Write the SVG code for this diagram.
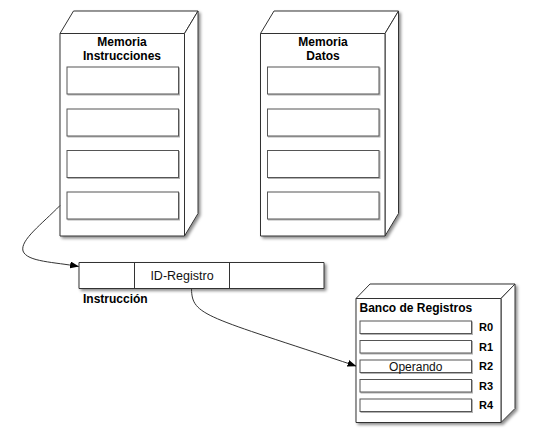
<svg xmlns="http://www.w3.org/2000/svg" width="543" height="437" viewBox="0 0 543 437">
  <defs>
    <filter id="sh" x="-10%" y="-10%" width="130%" height="130%">
      <feDropShadow dx="2" dy="2" stdDeviation="1.5" flood-color="#000" flood-opacity="0.45"/>
    </filter>
    <filter id="shs" x="-10%" y="-10%" width="130%" height="130%">
      <feDropShadow dx="1" dy="1" stdDeviation="0.7" flood-color="#000" flood-opacity="0.3"/>
    </filter>
    <marker id="arr" markerWidth="9" markerHeight="7" refX="8.5" refY="3.5" orient="auto" markerUnits="userSpaceOnUse">
      <path d="M0,0 L9,3.5 L0,7 Z" fill="#000"/>
    </marker>
    <style>
      .box { fill: #fff; stroke: #333; stroke-width: 1; stroke-linejoin: round; }
      .cell { fill: #fff; stroke: #555; stroke-width: 1; filter: url(#shs); }
      .title { font-family: "Liberation Sans", Arial, sans-serif; font-size: 12px; font-weight: bold; fill: #000; }
      .reg { font-family: "Liberation Sans", Arial, sans-serif; font-size: 11px; font-weight: bold; fill: #000; }
      .txt { font-family: "Liberation Sans", Arial, sans-serif; font-size: 12px; fill: #111; }
      .conn { fill: none; stroke: #333; stroke-width: 1; }
    </style>
  </defs>
  <rect width="543" height="437" fill="#fff"/>

  <g id="memoria-instrucciones">
    <g filter="url(#sh)">
      <polygon class="box" points="60,33.5 73.5,11 198,11 184.5,33.5"/>
      <polygon class="box" points="184.5,33.5 198,11 198,213.5 184.5,236"/>
      <rect class="box" x="60" y="33.5" width="124.5" height="202.5"/>
    </g>
    <text class="title" x="122" y="46" text-anchor="middle">Memoria</text>
    <text class="title" x="122" y="59.5" text-anchor="middle">Instrucciones</text>
    <rect class="cell" x="67" y="67" width="111.5" height="27"/>
    <rect class="cell" x="67" y="109" width="111.5" height="27"/>
    <rect class="cell" x="67" y="150.5" width="111.5" height="27"/>
    <rect class="cell" x="67" y="192" width="111.5" height="27"/>
  </g>

  <g id="memoria-datos">
    <g filter="url(#sh)">
      <polygon class="box" points="260.5,33.5 274,11 398.5,11 385,33.5"/>
      <polygon class="box" points="385,33.5 398.5,11 398.5,213.5 385,236"/>
      <rect class="box" x="260.5" y="33.5" width="124.5" height="202.5"/>
    </g>
    <text class="title" x="323" y="46" text-anchor="middle">Memoria</text>
    <text class="title" x="323" y="59.5" text-anchor="middle">Datos</text>
    <rect class="cell" x="267.5" y="67" width="111.5" height="27"/>
    <rect class="cell" x="267.5" y="109" width="111.5" height="27"/>
    <rect class="cell" x="267.5" y="150.5" width="111.5" height="27"/>
    <rect class="cell" x="267.5" y="192" width="111.5" height="27"/>
  </g>

  <g id="instruccion">
    <rect class="box" x="79" y="262.5" width="245" height="26" filter="url(#sh)"/>
    <line x1="134.5" y1="262.5" x2="134.5" y2="288.5" stroke="#333" stroke-width="1"/>
    <line x1="229.5" y1="262.5" x2="229.5" y2="288.5" stroke="#333" stroke-width="1"/>
    <text class="txt" x="182" y="280" text-anchor="middle" style="font-size:12.5px">ID-Registro</text>
    <text class="title" x="83" y="303">Instrucción</text>
  </g>

  <g id="banco-registros">
    <g filter="url(#sh)">
      <polygon class="box" points="356,298.5 370,284 515,284 501,298.5"/>
      <polygon class="box" points="501,298.5 515,284 515,408.5 501,422.5"/>
      <rect class="box" x="356" y="298.5" width="145" height="124"/>
    </g>
    <text class="title" x="359.5" y="311.5">Banco de Registros</text>
    <rect class="cell" x="360" y="321" width="111.5" height="12.5"/>
    <rect class="cell" x="360" y="340.5" width="111.5" height="12.5"/>
    <rect class="cell" x="360" y="360" width="111.5" height="12.5"/>
    <rect class="cell" x="360" y="379.5" width="111.5" height="12.5"/>
    <rect class="cell" x="360" y="399" width="111.5" height="12.5"/>
    <text class="txt" x="415.75" y="370.5" text-anchor="middle">Operando</text>
    <text class="reg" x="479" y="331">R0</text>
    <text class="reg" x="479" y="350.5">R1</text>
    <text class="reg" x="479" y="370">R2</text>
    <text class="reg" x="479" y="389.5">R3</text>
    <text class="reg" x="479" y="409">R4</text>
  </g>

  <g id="connectors">
    <path class="conn" d="M60,205.5 C42,224 20,240 23,251 C27,262 55,262 78.5,266.5" marker-end="url(#arr)"/>
    <path class="conn" d="M191.5,289 C192,316 206,316 356,366" marker-end="url(#arr)"/>
  </g>
</svg>
